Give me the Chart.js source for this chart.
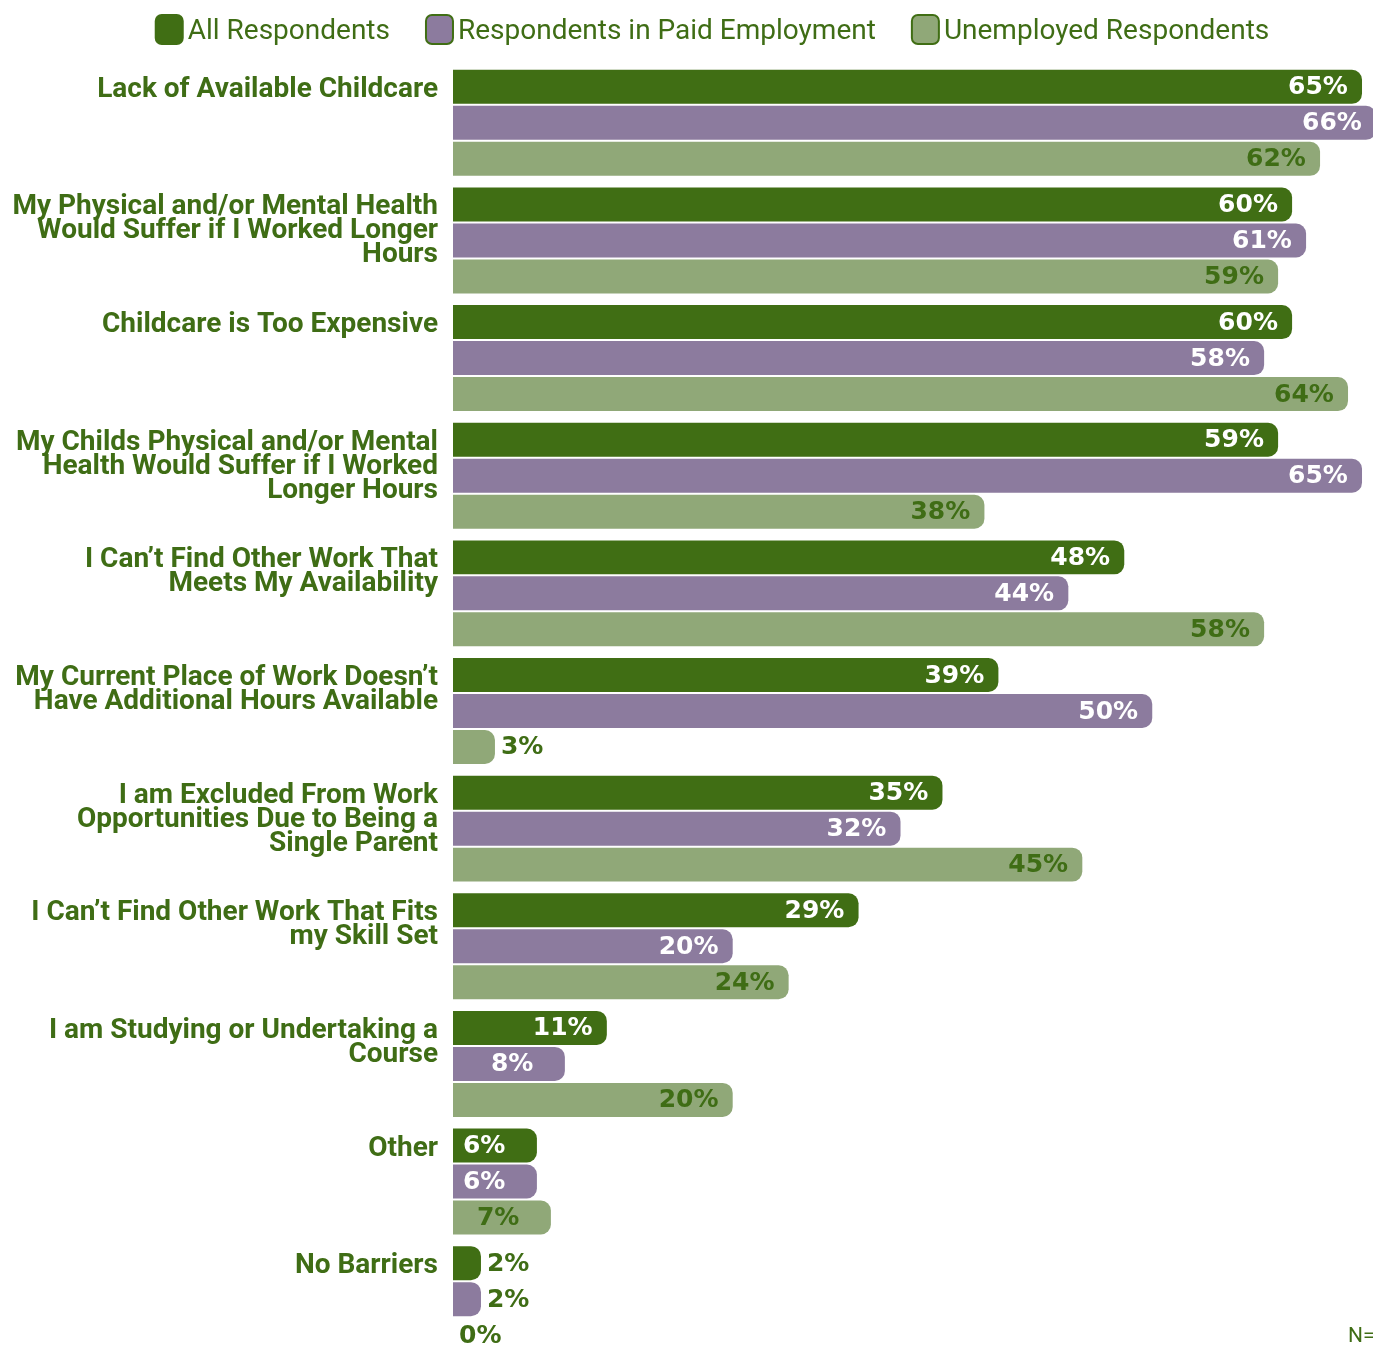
<!DOCTYPE html>
<html>
<head>
<meta charset="utf-8">
<script src="https://cdn.jsdelivr.net/npm/chart.js@4.4.0/dist/chart.umd.min.js"></script>
<style>
html, body { margin: 0; padding: 0; background: #fff; overflow: hidden; }
#wrap { position: absolute; left: 0; top: 0; width: 1424px; height: 1360px; }
</style>
</head>
<body>
<div id="wrap"><canvas id="myChart"></canvas></div>
<script>
const categories = [
  ["Lack of Available Childcare"],
  ["My Physical and/or Mental Health", "Would Suffer if I Worked Longer", "Hours"],
  ["Childcare is Too Expensive"],
  ["My Childs Physical and/or Mental", "Health Would Suffer if I Worked", "Longer Hours"],
  ["I Can’t Find Other Work That", "Meets My Availability"],
  ["My Current Place of Work Doesn’t", "Have Additional Hours Available"],
  ["I am Excluded From Work", "Opportunities Due to Being a", "Single Parent"],
  ["I Can’t Find Other Work That Fits", "my Skill Set"],
  ["I am Studying or Undertaking a", "Course"],
  ["Other"],
  ["No Barriers"]
]
const seriesNames = ["All Respondents", "Respondents in Paid Employment", "Unemployed Respondents"]
const allRespondents = [65, 60, 60, 59, 48, 39, 35, 29, 11, 6, 2]
const paidEmployment = [66, 61, 58, 65, 44, 50, 32, 20, 8, 6, 2]
const unemployed = [62, 59, 64, 38, 58, 3, 45, 24, 20, 7, 0]
const footnote = "N="

const darkGreen = "#406e14"
const purple = "#8c7b9e"
const lightGreen = "#90a878"
const textGreen = "#3f6d15"

// pad every label to 4 lines so the first line sits on the first bar
const labels = categories.map(lines => {
  let l = lines.slice()
  while (l.length < 4) l.push("")
  return l
})

const ctx = document.getElementById('myChart').getContext('2d')

// bar value labels
const valueLabels = {
  id: 'valueLabels',
  afterDatasetsDraw(chart) {
    const c = chart.ctx
    c.save()
    c.font = 'bold 25px "DejaVu Sans"'
    c.textBaseline = 'middle'
    c.textAlign = 'left'
    chart.data.datasets.forEach((ds, di) => {
      chart.getDatasetMeta(di).data.forEach((bar, i) => {
        const w = bar.x - bar.base
        let x, color
        if (w >= 80) {
          x = bar.x - 74
          color = di == 2 ? textGreen : "#ffffff"
        } else {
          x = bar.x + 6
          color = textGreen
        }
        c.fillStyle = color
        c.fillText(ds.data[i] + "%", x, bar.y + 1)
      })
    })
    c.restore()
  }
}

// legend on top + footnote
const topLegend = {
  id: 'topLegend',
  afterDraw(chart) {
    const c = chart.ctx
    c.save()
    c.font = '28px Roboto'
    c.textBaseline = 'middle'
    c.textAlign = 'left'
    const box = 29, gap = 4, spacing = 35
    const widths = chart.data.datasets.map(d => box + gap + c.measureText(d.label).width)
    const total = widths.reduce((a, b) => a + b, 0) + spacing * (widths.length - 1)
    let x = chart.width / 2 - total / 2
    chart.data.datasets.forEach((d, i) => {
      c.beginPath()
      c.roundRect(x + 1, 15, box - 2, box, 6)
      c.fillStyle = d.backgroundColor
      c.fill()
      c.lineWidth = 2
      c.strokeStyle = darkGreen
      c.stroke()
      c.fillStyle = textGreen
      c.fillText(d.label, x + box + gap, 32)
      x += widths[i] + spacing
    })
    c.font = '21px Roboto'
    c.fillText(footnote, 1348, 1337)
    c.restore()
  }
}

const myChart = new Chart(ctx, {
  type: 'bar',
  data: {
    labels: labels,
    datasets: [
      { label: seriesNames[0], data: allRespondents, backgroundColor: darkGreen },
      { label: seriesNames[1], data: paidEmployment, backgroundColor: purple },
      { label: seriesNames[2], data: unemployed, backgroundColor: lightGreen }
    ]
  },
  options: {
    indexAxis: 'y',
    responsive: true,
    maintainAspectRatio: false,
    animation: false,
    devicePixelRatio: 1,
    layout: { padding: { top: 64, bottom: 2, left: 0, right: 48 } },
    datasets: {
      bar: {
        categoryPercentage: 0.918,
        barPercentage: 0.944,
        borderRadius: 10
      }
    },
    plugins: {
      legend: { display: false },
      tooltip: { enabled: false }
    },
    scales: {
      x: {
        min: 0,
        max: 66,
        display: false
      },
      y: {
        grid: { display: false, drawTicks: false, tickLength: 0 },
        border: { display: false },
        afterFit(scale) {
          scale.width = 453
          scale.paddingTop = 0
          scale.paddingBottom = 0
        },
        ticks: {
          padding: 15,
          labelOffset: 3,
          color: textGreen,
          font: { family: 'Roboto', weight: 'bold', size: 28, lineHeight: '24px' }
        }
      }
    }
  },
  plugins: [valueLabels, topLegend]
})
</script>
</body>
</html>
